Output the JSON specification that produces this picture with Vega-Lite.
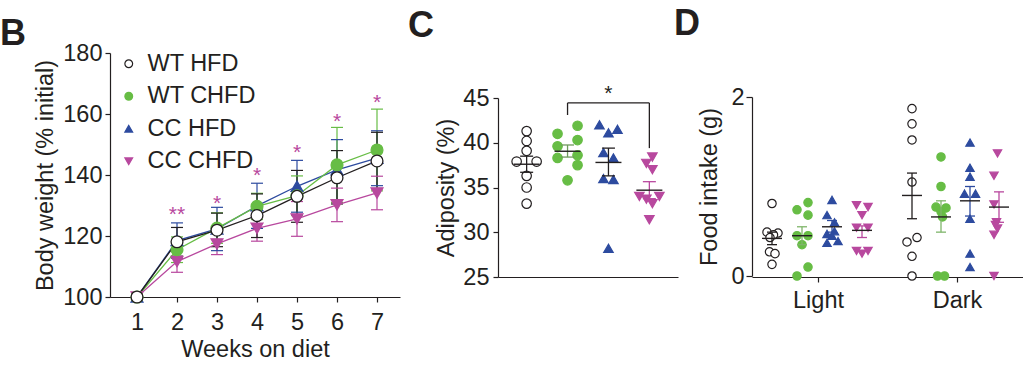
{
  "$schema": "https://vega.github.io/schema/vega-lite/v6.json",
  "padding": {"left": 0, "top": 6, "right": 0, "bottom": 0},
  "bounds": "flush",
  "spacing": 98,
  "config": {
    "font": "Liberation Sans",
    "view": {"stroke": null},
    "axis": {
      "labelFont": "Liberation Sans", "titleFont": "Liberation Sans",
      "labelFontSize": 23.5, "titleFontSize": 23.5,
      "labelColor": "#231f20", "titleColor": "#231f20", "titleFontWeight": "normal",
      "domainColor": "#231f20", "tickColor": "#231f20", "domainWidth": 1.2, "tickWidth": 1.2,
      "tickSize": 5, "grid": false, "labelFlush": false, "labelOverlap": false
    },
    "legend": {"labelFont": "Liberation Sans", "labelFontSize": 23.5, "labelColor": "#231f20"},
    "title": {"font": "Liberation Sans", "fontSize": 36, "fontWeight": "bold", "color": "#231f20", "anchor": "start", "frame": "group", "baseline": "alphabetic", "offset": 0}
  },
  "datasets": {
    "weights": [
      {"group": "CC CHFD", "week": 1, "mean": 100, "lo": null, "hi": null},
      {"group": "CC CHFD", "week": 2, "mean": 111.6, "lo": 108.1, "hi": 115.1},
      {"group": "CC CHFD", "week": 3, "mean": 117.4, "lo": 113.9, "hi": 120.9},
      {"group": "CC CHFD", "week": 4, "mean": 122.5, "lo": 118.3, "hi": 126.7},
      {"group": "CC CHFD", "week": 5, "mean": 125.6, "lo": 119.9, "hi": 131.3},
      {"group": "CC CHFD", "week": 6, "mean": 130.2, "lo": 124.7, "hi": 135.7},
      {"group": "CC CHFD", "week": 7, "mean": 134.1, "lo": 128.6, "hi": 139.6},
      {"group": "CC HFD", "week": 1, "mean": 100, "lo": null, "hi": null},
      {"group": "CC HFD", "week": 2, "mean": 118.5, "lo": 112.7, "hi": 124.3},
      {"group": "CC HFD", "week": 3, "mean": 122.3, "lo": 115.2, "hi": 129.4},
      {"group": "CC HFD", "week": 4, "mean": 129.9, "lo": 122.5, "hi": 137.3},
      {"group": "CC HFD", "week": 5, "mean": 136.3, "lo": 127.8, "hi": 144.8},
      {"group": "CC HFD", "week": 6, "mean": 141.7, "lo": 131.8, "hi": 151.6},
      {"group": "CC HFD", "week": 7, "mean": 145.5, "lo": 136.5, "hi": 154.5},
      {"group": "WT CHFD", "week": 1, "mean": 100, "lo": null, "hi": null},
      {"group": "WT CHFD", "week": 2, "mean": 115.5, "lo": 111.3, "hi": 119.7},
      {"group": "WT CHFD", "week": 3, "mean": 122.6, "lo": 117.6, "hi": 127.6},
      {"group": "WT CHFD", "week": 4, "mean": 129.7, "lo": 125.4, "hi": 134.0},
      {"group": "WT CHFD", "week": 5, "mean": 133.2, "lo": 126.7, "hi": 139.7},
      {"group": "WT CHFD", "week": 6, "mean": 143.3, "lo": 131.0, "hi": 155.6},
      {"group": "WT CHFD", "week": 7, "mean": 148.2, "lo": 134.8, "hi": 161.6},
      {"group": "WT HFD", "week": 1, "mean": 100, "lo": null, "hi": null},
      {"group": "WT HFD", "week": 2, "mean": 118.1, "lo": 113.4, "hi": 122.8},
      {"group": "WT HFD", "week": 3, "mean": 121.9, "lo": 116.5, "hi": 127.5},
      {"group": "WT HFD", "week": 4, "mean": 126.7, "lo": 119.5, "hi": 133.8},
      {"group": "WT HFD", "week": 5, "mean": 133.0, "lo": 124.5, "hi": 141.5},
      {"group": "WT HFD", "week": 6, "mean": 139.1, "lo": 130.5, "hi": 148.0},
      {"group": "WT HFD", "week": 7, "mean": 144.6, "lo": 135.5, "hi": 154.0}
    ],
    "stars": [
      {"week": 2, "value": 129.0, "label": "**"},
      {"week": 3, "value": 132.5, "label": "*"},
      {"week": 4, "value": 141.8, "label": "*"},
      {"week": 5, "value": 149.2, "label": "*"},
      {"week": 6, "value": 159.3, "label": "*"},
      {"week": 7, "value": 165.5, "label": "*"}
    ],
    "adiposity": [
      {"group": "WT HFD", "lane": 0, "value": 41.3},
      {"group": "WT HFD", "lane": 0, "value": 40.2},
      {"group": "WT HFD", "lane": 0, "value": 39.1},
      {"group": "WT HFD", "lane": -2, "value": 37.9},
      {"group": "WT HFD", "lane": 2, "value": 37.9},
      {"group": "WT HFD", "lane": 0, "value": 36.3},
      {"group": "WT HFD", "lane": 0, "value": 35.0},
      {"group": "WT HFD", "lane": 0, "value": 33.2},
      {"group": "WT CHFD", "lane": -2, "value": 41.0},
      {"group": "WT CHFD", "lane": 2, "value": 41.9},
      {"group": "WT CHFD", "lane": 2, "value": 40.3},
      {"group": "WT CHFD", "lane": -2, "value": 39.6},
      {"group": "WT CHFD", "lane": 2, "value": 38.6},
      {"group": "WT CHFD", "lane": -2, "value": 38.3},
      {"group": "WT CHFD", "lane": 2, "value": 37.5},
      {"group": "WT CHFD", "lane": 0, "value": 35.8},
      {"group": "CC HFD", "lane": -1.8, "value": 42.0},
      {"group": "CC HFD", "lane": 1.8, "value": 41.5},
      {"group": "CC HFD", "lane": 0, "value": 41.1},
      {"group": "CC HFD", "lane": -1, "value": 38.9},
      {"group": "CC HFD", "lane": 1, "value": 38.3},
      {"group": "CC HFD", "lane": -1, "value": 36.0},
      {"group": "CC HFD", "lane": 1, "value": 35.9},
      {"group": "CC HFD", "lane": 0, "value": 28.2},
      {"group": "CC CHFD", "lane": 0.6, "value": 38.4},
      {"group": "CC CHFD", "lane": -0.6, "value": 37.7},
      {"group": "CC CHFD", "lane": 0.6, "value": 37.0},
      {"group": "CC CHFD", "lane": -2, "value": 34.0},
      {"group": "CC CHFD", "lane": 2, "value": 34.0},
      {"group": "CC CHFD", "lane": -0.6, "value": 33.7},
      {"group": "CC CHFD", "lane": 0.6, "value": 33.2},
      {"group": "CC CHFD", "lane": 0, "value": 31.4}
    ],
    "adipositySummary": [
      {"group": "WT HFD", "mean": 37.6, "lo": 36.7, "hi": 38.5},
      {"group": "WT CHFD", "mean": 39.05, "lo": 38.4, "hi": 39.75},
      {"group": "CC HFD", "mean": 37.8, "lo": 36.3, "hi": 39.4},
      {"group": "CC CHFD", "mean": 34.7, "lo": 33.75, "hi": 35.65}
    ],
    "food": [
      {"period": "Light", "group": "WT HFD", "lane": 0, "value": 0.81},
      {"period": "Light", "group": "WT HFD", "lane": -1, "value": 0.49},
      {"period": "Light", "group": "WT HFD", "lane": 1.2, "value": 0.48},
      {"period": "Light", "group": "WT HFD", "lane": 0.3, "value": 0.46},
      {"period": "Light", "group": "WT HFD", "lane": -0.4, "value": 0.43},
      {"period": "Light", "group": "WT HFD", "lane": -0.5, "value": 0.27},
      {"period": "Light", "group": "WT HFD", "lane": 0.6, "value": 0.25},
      {"period": "Light", "group": "WT HFD", "lane": 0, "value": 0.13},
      {"period": "Light", "group": "WT CHFD", "lane": 1.2, "value": 0.82},
      {"period": "Light", "group": "WT CHFD", "lane": -1, "value": 0.74},
      {"period": "Light", "group": "WT CHFD", "lane": 1.2, "value": 0.68},
      {"period": "Light", "group": "WT CHFD", "lane": -1, "value": 0.45},
      {"period": "Light", "group": "WT CHFD", "lane": 1.2, "value": 0.45},
      {"period": "Light", "group": "WT CHFD", "lane": 0, "value": 0.35},
      {"period": "Light", "group": "WT CHFD", "lane": 1.2, "value": 0.10},
      {"period": "Light", "group": "WT CHFD", "lane": -1, "value": 0.0},
      {"period": "Light", "group": "CC HFD", "lane": 0, "value": 0.85},
      {"period": "Light", "group": "CC HFD", "lane": -1, "value": 0.68},
      {"period": "Light", "group": "CC HFD", "lane": 0.5, "value": 0.60},
      {"period": "Light", "group": "CC HFD", "lane": 0.5, "value": 0.50},
      {"period": "Light", "group": "CC HFD", "lane": -1, "value": 0.47},
      {"period": "Light", "group": "CC HFD", "lane": 0, "value": 0.45},
      {"period": "Light", "group": "CC HFD", "lane": 1.2, "value": 0.39},
      {"period": "Light", "group": "CC HFD", "lane": -1, "value": 0.37},
      {"period": "Light", "group": "CC CHFD", "lane": -1.1, "value": 0.79},
      {"period": "Light", "group": "CC CHFD", "lane": 1.2, "value": 0.77},
      {"period": "Light", "group": "CC CHFD", "lane": 0, "value": 0.68},
      {"period": "Light", "group": "CC CHFD", "lane": -1.1, "value": 0.54},
      {"period": "Light", "group": "CC CHFD", "lane": 1.2, "value": 0.54},
      {"period": "Light", "group": "CC CHFD", "lane": -1.1, "value": 0.28},
      {"period": "Light", "group": "CC CHFD", "lane": 1.2, "value": 0.28},
      {"period": "Light", "group": "CC CHFD", "lane": 0, "value": 0.25},
      {"period": "Dark", "group": "WT HFD", "lane": 0, "value": 1.87},
      {"period": "Dark", "group": "WT HFD", "lane": 0, "value": 1.70},
      {"period": "Dark", "group": "WT HFD", "lane": 0, "value": 1.52},
      {"period": "Dark", "group": "WT HFD", "lane": 0, "value": 1.05},
      {"period": "Dark", "group": "WT HFD", "lane": 1, "value": 0.43},
      {"period": "Dark", "group": "WT HFD", "lane": -1, "value": 0.38},
      {"period": "Dark", "group": "WT HFD", "lane": 0, "value": 0.22},
      {"period": "Dark", "group": "WT HFD", "lane": 0, "value": 0.0},
      {"period": "Dark", "group": "WT CHFD", "lane": 0, "value": 1.33},
      {"period": "Dark", "group": "WT CHFD", "lane": 0, "value": 1.0},
      {"period": "Dark", "group": "WT CHFD", "lane": -1, "value": 0.77},
      {"period": "Dark", "group": "WT CHFD", "lane": 1, "value": 0.76},
      {"period": "Dark", "group": "WT CHFD", "lane": 0, "value": 0.72},
      {"period": "Dark", "group": "WT CHFD", "lane": 0.3, "value": 0.66},
      {"period": "Dark", "group": "WT CHFD", "lane": -0.7, "value": 0.0},
      {"period": "Dark", "group": "WT CHFD", "lane": 0.7, "value": 0.0},
      {"period": "Dark", "group": "CC HFD", "lane": 0, "value": 1.49},
      {"period": "Dark", "group": "CC HFD", "lane": 0, "value": 1.21},
      {"period": "Dark", "group": "CC HFD", "lane": 0, "value": 1.11},
      {"period": "Dark", "group": "CC HFD", "lane": -1.1, "value": 0.92},
      {"period": "Dark", "group": "CC HFD", "lane": 1.1, "value": 0.92},
      {"period": "Dark", "group": "CC HFD", "lane": 0, "value": 0.64},
      {"period": "Dark", "group": "CC HFD", "lane": 0, "value": 0.25},
      {"period": "Dark", "group": "CC HFD", "lane": 0, "value": 0.10},
      {"period": "Dark", "group": "CC CHFD", "lane": -0.3, "value": 1.37},
      {"period": "Dark", "group": "CC CHFD", "lane": -1, "value": 1.12},
      {"period": "Dark", "group": "CC CHFD", "lane": -1, "value": 0.80},
      {"period": "Dark", "group": "CC CHFD", "lane": -0.5, "value": 0.60},
      {"period": "Dark", "group": "CC CHFD", "lane": -0.7, "value": 0.57},
      {"period": "Dark", "group": "CC CHFD", "lane": -0.3, "value": 0.53},
      {"period": "Dark", "group": "CC CHFD", "lane": -1, "value": 0.46},
      {"period": "Dark", "group": "CC CHFD", "lane": -1, "value": 0.0}
    ],
    "foodSummary": [
      {"period": "Light", "group": "WT HFD", "mean": 0.42, "lo": 0.35, "hi": 0.49},
      {"period": "Light", "group": "WT CHFD", "mean": 0.45, "lo": 0.35, "hi": 0.55},
      {"period": "Light", "group": "CC HFD", "mean": 0.55, "lo": 0.49, "hi": 0.62},
      {"period": "Light", "group": "CC CHFD", "mean": 0.51, "lo": 0.43, "hi": 0.56},
      {"period": "Dark", "group": "WT HFD", "mean": 0.90, "lo": 0.64, "hi": 1.15},
      {"period": "Dark", "group": "WT CHFD", "mean": 0.66, "lo": 0.49, "hi": 0.84},
      {"period": "Dark", "group": "CC HFD", "mean": 0.84, "lo": 0.67, "hi": 1.00},
      {"period": "Dark", "group": "CC CHFD", "mean": 0.77, "lo": 0.60, "hi": 0.94}
    ]
  },
  "resolve": {
    "scale": {"color": "independent", "fill": "independent", "stroke": "independent", "shape": "independent", "xOffset": "independent"}
  },
  "hconcat": [
    {
      "width": 290,
      "height": 244,
      "title": {"text": "B", "dx": -110, "dy": 16},
      "layer": [
        {
          "data": {"name": "weights"},
          "mark": {"type": "rule", "strokeWidth": 1.2},
          "encoding": {
            "x": {"field": "week", "type": "quantitative", "scale": {"domain": [0.325, 7.575], "nice": false, "zero": false},
              "axis": {"values": [1, 2, 3, 4, 5, 6, 7], "format": "d", "title": "Weeks on diet", "labelPadding": 8, "titlePadding": 4}},
            "y": {"field": "lo", "type": "quantitative", "scale": {"domain": [100, 180], "nice": false, "zero": false},
              "axis": {"values": [100, 120, 140, 160, 180], "title": "Body weight (% initial)", "labelPadding": 3, "titlePadding": 5}},
            "y2": {"field": "hi"},
            "color": {"field": "group", "type": "nominal", "scale": {"domain": ["CC CHFD", "CC HFD", "WT CHFD", "WT HFD"], "range": ["#b8489e", "#2d4b9f", "#67bd45", "#231f20"]}, "legend": null}
          }
        },
        {
          "data": {"name": "weights"},
          "mark": {"type": "tick", "orient": "horizontal", "size": 12, "thickness": 1.2, "opacity": 1},
          "encoding": {
            "x": {"field": "week", "type": "quantitative"},
            "y": {"field": "lo", "type": "quantitative"},
            "color": {"field": "group", "type": "nominal", "legend": null}
          }
        },
        {
          "data": {"name": "weights"},
          "mark": {"type": "tick", "orient": "horizontal", "size": 12, "thickness": 1.2, "opacity": 1},
          "encoding": {
            "x": {"field": "week", "type": "quantitative"},
            "y": {"field": "hi", "type": "quantitative"},
            "color": {"field": "group", "type": "nominal", "legend": null}
          }
        },
        {
          "data": {"name": "weights"},
          "mark": {"type": "line", "strokeWidth": 1.3},
          "encoding": {
            "x": {"field": "week", "type": "quantitative"},
            "y": {"field": "mean", "type": "quantitative"},
            "color": {"field": "group", "type": "nominal", "legend": null}
          }
        },
        {
          "data": {"name": "weights"},
          "mark": {"type": "point", "size": 140, "strokeWidth": 1.3, "opacity": 1},
          "encoding": {
            "x": {"field": "week", "type": "quantitative"},
            "y": {"field": "mean", "type": "quantitative"},
            "fill": {"field": "group", "type": "nominal", "scale": {"domain": ["WT HFD", "WT CHFD", "CC HFD", "CC CHFD"], "range": ["#ffffff", "#67bd45", "#2d4b9f", "#b8489e"]},
              "legend": {"orient": "none", "legendX": 7, "legendY": -1, "title": null, "padding": 0, "symbolSize": 60, "symbolStrokeWidth": 1.2, "rowPadding": 7.5, "labelOffset": 7}},
            "stroke": {"field": "group", "type": "nominal", "scale": {"domain": ["WT HFD", "WT CHFD", "CC HFD", "CC CHFD"], "range": ["#231f20", "#67bd45", "#2d4b9f", "#b8489e"]},
              "legend": {"orient": "none", "legendX": 7, "legendY": -1, "title": null, "padding": 0, "symbolSize": 60, "symbolStrokeWidth": 1.2, "rowPadding": 7.5, "labelOffset": 7}},
            "shape": {"field": "group", "type": "nominal", "scale": {"domain": ["WT HFD", "WT CHFD", "CC HFD", "CC CHFD"], "range": ["circle", "circle", "triangle-up", "triangle-down"]},
              "legend": {"orient": "none", "legendX": 7, "legendY": -1, "title": null, "padding": 0, "symbolSize": 60, "symbolStrokeWidth": 1.2, "rowPadding": 7.5, "labelOffset": 7}}
          }
        },
        {
          "data": {"name": "stars"},
          "mark": {"type": "text", "color": "#b8489e", "fontSize": 21, "dy": 6, "font": "Liberation Sans"},
          "encoding": {
            "x": {"field": "week", "type": "quantitative"},
            "y": {"field": "value", "type": "quantitative"},
            "text": {"field": "label"}
          }
        }
      ]
    },
    {
      "width": 156,
      "height": 224,
      "title": {"text": "C", "dx": -90, "dy": -4},
      "layer": [
        {
          "data": {"name": "adiposity"},
          "mark": {"type": "point", "size": 90, "strokeWidth": 1.2, "opacity": 1},
          "encoding": {
            "x": {"field": "group", "type": "nominal", "scale": {"type": "point", "domain": ["WT HFD", "WT CHFD", "CC HFD", "CC CHFD"], "range": [0, 180], "padding": 0.7},
              "axis": {"title": null, "labels": false, "ticks": false}},
            "y": {"field": "value", "type": "quantitative", "scale": {"domain": [25, 45], "range": [224, 45], "nice": false, "zero": false},
              "axis": {"values": [25, 30, 35, 40, 45], "title": "Adiposity (%)", "labelPadding": 4, "titlePadding": 4}},
            "xOffset": {"field": "lane", "type": "quantitative", "scale": {"domain": [-2, 2], "range": [-10, 10]}},
            "fill": {"field": "group", "type": "nominal", "scale": {"domain": ["WT HFD", "WT CHFD", "CC HFD", "CC CHFD"], "range": ["#ffffff", "#67bd45", "#2d4b9f", "#b8489e"]}, "legend": null},
            "stroke": {"field": "group", "type": "nominal", "scale": {"domain": ["WT HFD", "WT CHFD", "CC HFD", "CC CHFD"], "range": ["#231f20", "#67bd45", "#2d4b9f", "#b8489e"]}, "legend": null},
            "shape": {"field": "group", "type": "nominal", "scale": {"domain": ["WT HFD", "WT CHFD", "CC HFD", "CC CHFD"], "range": ["circle", "circle", "triangle-up", "triangle-down"]}, "legend": null}
          }
        },
        {
          "data": {"name": "adipositySummary"},
          "mark": {"type": "rule", "strokeWidth": 1.3},
          "encoding": {
            "x": {"field": "group", "type": "nominal"},
            "y": {"field": "lo", "type": "quantitative"},
            "y2": {"field": "hi"},
            "color": {"field": "group", "type": "nominal", "scale": {"domain": ["WT HFD", "WT CHFD", "CC HFD", "CC CHFD"], "range": ["#231f20", "#6f9a5c", "#231f20", "#b8489e"]}, "legend": null}
          }
        },
        {
          "data": {"name": "adipositySummary"},
          "mark": {"type": "tick", "orient": "horizontal", "size": 13, "thickness": 1.3, "opacity": 1},
          "encoding": {
            "x": {"field": "group", "type": "nominal"},
            "y": {"field": "lo", "type": "quantitative"},
            "color": {"field": "group", "type": "nominal", "legend": null}
          }
        },
        {
          "data": {"name": "adipositySummary"},
          "mark": {"type": "tick", "orient": "horizontal", "size": 13, "thickness": 1.3, "opacity": 1},
          "encoding": {
            "x": {"field": "group", "type": "nominal"},
            "y": {"field": "hi", "type": "quantitative"},
            "color": {"field": "group", "type": "nominal", "legend": null}
          }
        },
        {
          "data": {"name": "adipositySummary"},
          "mark": {"type": "tick", "orient": "horizontal", "size": 26, "thickness": 1.4, "opacity": 1, "color": "#231f20"},
          "encoding": {
            "x": {"field": "group", "type": "nominal"},
            "y": {"field": "mean", "type": "quantitative"}
          }
        },
        {
          "data": {"values": [{"from": "WT CHFD", "to": "CC CHFD", "top": 44.45}]},
          "mark": {"type": "rule", "strokeWidth": 1.3, "color": "#231f20"},
          "encoding": {
            "x": {"field": "from", "type": "nominal"},
            "x2": {"field": "to"},
            "y": {"field": "top", "type": "quantitative"}
          }
        },
        {
          "data": {"values": [{"group": "WT CHFD", "top": 44.45, "bottom": 43.1}, {"group": "CC CHFD", "top": 44.45, "bottom": 39.4}]},
          "mark": {"type": "rule", "strokeWidth": 1.3, "color": "#231f20"},
          "encoding": {
            "x": {"field": "group", "type": "nominal"},
            "y": {"field": "top", "type": "quantitative"},
            "y2": {"field": "bottom"}
          }
        },
        {
          "data": {"values": [{"group": "CC HFD", "value": 46.1, "label": "*"}]},
          "mark": {"type": "text", "color": "#231f20", "fontSize": 21, "dy": 6, "font": "Liberation Sans"},
          "encoding": {
            "x": {"field": "group", "type": "nominal"},
            "y": {"field": "value", "type": "quantitative"},
            "text": {"field": "label"}
          }
        }
      ]
    },
    {
      "width": 271,
      "height": 224,
      "title": {"text": "D", "dx": -78, "dy": -6},
      "resolve": {"scale": {"x": "independent"}},
      "layer": [
        {
          "data": {"name": "foodSummary"},
          "mark": {"type": "point", "opacity": 0},
          "encoding": {
            "x": {"field": "period", "type": "nominal", "scale": {"type": "point", "domain": ["Light", "Dark"], "range": [0, 271], "padding": 0.475},
              "axis": {"title": null, "labelAngle": 0, "labelPadding": 6, "tickSize": 5}},
            "y": {"field": "mean", "type": "quantitative", "scale": {"domain": [0, 2], "range": [223, 44], "nice": false, "zero": false},
              "axis": {"values": [0, 1, 2], "format": "d", "title": "Food intake (g)", "labelPadding": 2, "tickSize": 6, "titlePadding": 9}}
          }
        },
        {
          "layer": [
            {
              "data": {"name": "food"},
              "transform": [{"filter": "datum.period === 'Light'"}],
              "mark": {"type": "point", "size": 70, "strokeWidth": 1.2, "opacity": 1},
              "encoding": {
                "x": {"field": "group", "type": "nominal", "scale": {"type": "point", "domain": ["WT HFD", "WT CHFD", "CC HFD", "CC CHFD"], "range": [20, 110], "padding": 0}, "axis": null},
                "y": {"field": "value", "type": "quantitative"},
                "xOffset": {"field": "lane", "type": "quantitative", "scale": {"domain": [-2, 2], "range": [-10, 10]}},
                "fill": {"field": "group", "type": "nominal", "scale": {"domain": ["WT HFD", "WT CHFD", "CC HFD", "CC CHFD"], "range": ["#ffffff", "#67bd45", "#2d4b9f", "#b8489e"]}, "legend": null},
                "stroke": {"field": "group", "type": "nominal", "scale": {"domain": ["WT HFD", "WT CHFD", "CC HFD", "CC CHFD"], "range": ["#231f20", "#67bd45", "#2d4b9f", "#b8489e"]}, "legend": null},
                "shape": {"field": "group", "type": "nominal", "scale": {"domain": ["WT HFD", "WT CHFD", "CC HFD", "CC CHFD"], "range": ["circle", "circle", "triangle-up", "triangle-down"]}, "legend": null}
              }
            },
            {
              "data": {"name": "foodSummary"},
              "transform": [{"filter": "datum.period === 'Light'"}],
              "mark": {"type": "rule", "strokeWidth": 1.3},
              "encoding": {
                "x": {"field": "group", "type": "nominal", "axis": null},
                "y": {"field": "lo", "type": "quantitative"},
                "y2": {"field": "hi"},
                "color": {"field": "group", "type": "nominal", "scale": {"domain": ["WT HFD", "WT CHFD", "CC HFD", "CC CHFD"], "range": ["#231f20", "#7fb56a", "#2d4b9f", "#b8489e"]}, "legend": null}
              }
            },
            {
              "data": {"name": "foodSummary"},
              "transform": [{"filter": "datum.period === 'Light'"}],
              "mark": {"type": "tick", "orient": "horizontal", "size": 10, "thickness": 1.3, "opacity": 1},
              "encoding": {
                "x": {"field": "group", "type": "nominal", "axis": null},
                "y": {"field": "lo", "type": "quantitative"},
                "color": {"field": "group", "type": "nominal", "legend": null}
              }
            },
            {
              "data": {"name": "foodSummary"},
              "transform": [{"filter": "datum.period === 'Light'"}],
              "mark": {"type": "tick", "orient": "horizontal", "size": 10, "thickness": 1.3, "opacity": 1},
              "encoding": {
                "x": {"field": "group", "type": "nominal", "axis": null},
                "y": {"field": "hi", "type": "quantitative"},
                "color": {"field": "group", "type": "nominal", "legend": null}
              }
            },
            {
              "data": {"name": "foodSummary"},
              "transform": [{"filter": "datum.period === 'Light'"}],
              "mark": {"type": "tick", "orient": "horizontal", "size": 20, "thickness": 1.4, "opacity": 1, "color": "#231f20"},
              "encoding": {
                "x": {"field": "group", "type": "nominal", "axis": null},
                "y": {"field": "mean", "type": "quantitative"}
              }
            }
          ]
        },
        {
          "layer": [
            {
              "data": {"name": "food"},
              "transform": [{"filter": "datum.period === 'Dark'"}],
              "mark": {"type": "point", "size": 70, "strokeWidth": 1.2, "opacity": 1},
              "encoding": {
                "x": {"field": "group", "type": "nominal", "scale": {"type": "point", "domain": ["WT HFD", "WT CHFD", "CC HFD", "CC CHFD"], "range": [160, 247], "padding": 0}, "axis": null},
                "y": {"field": "value", "type": "quantitative"},
                "xOffset": {"field": "lane", "type": "quantitative", "scale": {"domain": [-2, 2], "range": [-10, 10]}},
                "fill": {"field": "group", "type": "nominal", "scale": {"domain": ["WT HFD", "WT CHFD", "CC HFD", "CC CHFD"], "range": ["#ffffff", "#67bd45", "#2d4b9f", "#b8489e"]}, "legend": null},
                "stroke": {"field": "group", "type": "nominal", "scale": {"domain": ["WT HFD", "WT CHFD", "CC HFD", "CC CHFD"], "range": ["#231f20", "#67bd45", "#2d4b9f", "#b8489e"]}, "legend": null},
                "shape": {"field": "group", "type": "nominal", "scale": {"domain": ["WT HFD", "WT CHFD", "CC HFD", "CC CHFD"], "range": ["circle", "circle", "triangle-up", "triangle-down"]}, "legend": null}
              }
            },
            {
              "data": {"name": "foodSummary"},
              "transform": [{"filter": "datum.period === 'Dark'"}],
              "mark": {"type": "rule", "strokeWidth": 1.3},
              "encoding": {
                "x": {"field": "group", "type": "nominal", "axis": null},
                "y": {"field": "lo", "type": "quantitative"},
                "y2": {"field": "hi"},
                "color": {"field": "group", "type": "nominal", "scale": {"domain": ["WT HFD", "WT CHFD", "CC HFD", "CC CHFD"], "range": ["#231f20", "#7fb56a", "#2d4b9f", "#b8489e"]}, "legend": null}
              }
            },
            {
              "data": {"name": "foodSummary"},
              "transform": [{"filter": "datum.period === 'Dark'"}],
              "mark": {"type": "tick", "orient": "horizontal", "size": 10, "thickness": 1.3, "opacity": 1},
              "encoding": {
                "x": {"field": "group", "type": "nominal", "axis": null},
                "y": {"field": "lo", "type": "quantitative"},
                "color": {"field": "group", "type": "nominal", "legend": null}
              }
            },
            {
              "data": {"name": "foodSummary"},
              "transform": [{"filter": "datum.period === 'Dark'"}],
              "mark": {"type": "tick", "orient": "horizontal", "size": 10, "thickness": 1.3, "opacity": 1},
              "encoding": {
                "x": {"field": "group", "type": "nominal", "axis": null},
                "y": {"field": "hi", "type": "quantitative"},
                "color": {"field": "group", "type": "nominal", "legend": null}
              }
            },
            {
              "data": {"name": "foodSummary"},
              "transform": [{"filter": "datum.period === 'Dark'"}],
              "mark": {"type": "tick", "orient": "horizontal", "size": 20, "thickness": 1.4, "opacity": 1, "color": "#231f20"},
              "encoding": {
                "x": {"field": "group", "type": "nominal", "axis": null},
                "y": {"field": "mean", "type": "quantitative"}
              }
            }
          ]
        }
      ]
    }
  ]
}
